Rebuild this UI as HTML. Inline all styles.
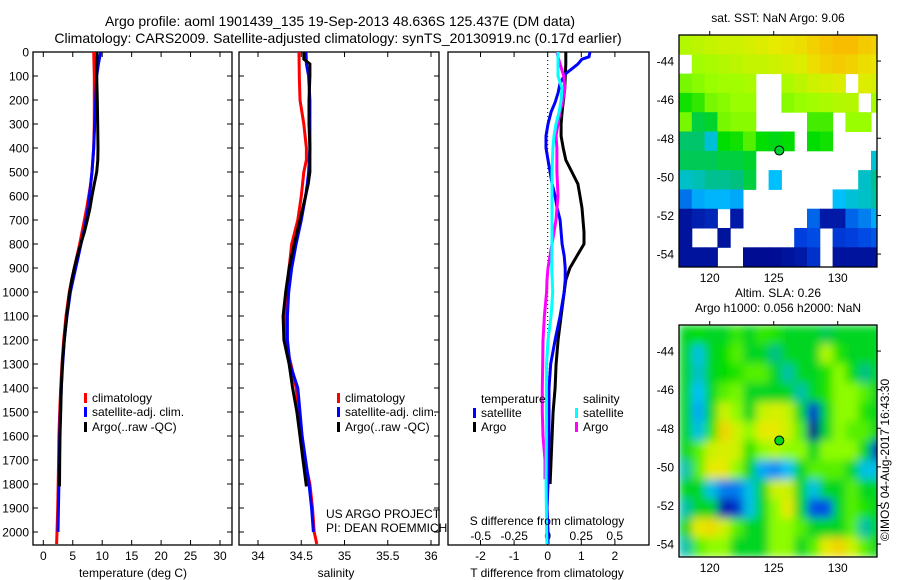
<!DOCTYPE html>
<html><head><meta charset="utf-8">
<style>
html,body{margin:0;padding:0;background:#fff;}
svg{display:block;font-family:"Liberation Sans",sans-serif;}
text{fill:#000;}
</style></head>
<body>
<svg id="fig" width="900" height="580" viewBox="0 0 900 580" xmlns="http://www.w3.org/2000/svg">
<defs>
<clipPath id="clipMap1"><rect x="679" y="35" width="198" height="232"/></clipPath>
<clipPath id="clipMap2"><rect x="679" y="325" width="198" height="232"/></clipPath>
<filter id="blur" x="-5%" y="-5%" width="110%" height="110%"><feGaussianBlur stdDeviation="4.5" edgeMode="duplicate"/></filter>
</defs>
<text x="340" y="26" font-size="14" text-anchor="middle">Argo profile: aoml 1901439_135 19-Sep-2013 48.636S 125.437E (DM data)</text>
<text x="338" y="43" font-size="14" text-anchor="middle">Climatology: CARS2009. Satellite-adjusted climatology: synTS_20130919.nc (0.17d earlier)</text>
<g id="g1"></g>
<g id="g2"></g>
<g id="g3"></g>
<g id="m1"></g>
<g id="m2"></g>
<text x="889" y="460" font-size="12" text-anchor="middle" transform="rotate(-90 889 460)">©IMOS 04-Aug-2017 16:43:30</text>
</svg>
<script>
// ---------- data ----------
const depthTicks = [0,100,200,300,400,500,600,700,800,900,1000,1100,1200,1300,1400,1500,1600,1700,1800,1900,2000];
const tempTicks = [0,5,10,15,20,25,30];
const salTicks = [34,34.5,35,35.5,36];
const tdiffTicks = [-2,-1,0,1,2];
const sdiffTicks = [-0.5,-0.25,0,0.25,0.5];
const latTicks = [-44,-46,-48,-50,-52,-54];
const lonTicks = [120,125,130];

const tClimD = [0,100,300,400,500,550,600,650,700,750,800,850,900,950,1000,1100,1200,1300,1400,1500,1600,1700,1800,1900,2000,2050];
const tClimV = [8.55,8.66,8.66,8.55,8.27,8.05,7.7,7.37,6.97,6.57,6.18,5.73,5.27,4.82,4.42,3.85,3.46,3.17,2.95,2.78,2.65,2.6,2.53,2.45,2.33,2.25];
const tSatD = [0,50,100,200,300,400,500,550,600,650,700,750,800,850,900,950,1000,1100,1200,1300,1400,1500,1600,1800,2000];
const tSatV = [9.74,9.35,9.06,8.89,8.72,8.55,8.27,8.05,7.82,7.6,7.25,6.86,6.4,5.96,5.5,5.05,4.6,4.02,3.57,3.29,3.06,2.89,2.78,2.65,2.5];
const tArgoD = [0,100,200,300,400,450,500,550,600,650,700,750,800,850,900,950,1000,1100,1200,1300,1400,1500,1600,1700,1810];
const tArgoV = [9.12,9.06,9.17,9.23,9.29,9.25,9.06,8.66,8.27,7.93,7.47,6.97,6.35,5.78,5.27,4.82,4.48,3.97,3.57,3.23,3.06,2.95,2.84,2.78,2.75];

const sClimD = [0,100,200,300,400,450,500,600,700,800,900,1000,1100,1200,1300,1400,1500,1600,1700,1800,1900,2000,2050];
const sClimV = [34.474,34.477,34.486,34.53,34.56,34.56,34.53,34.50,34.46,34.39,34.36,34.34,34.32,34.31,34.38,34.44,34.47,34.51,34.54,34.60,34.63,34.65,34.68];
const sSatD = [0,50,100,200,300,400,500,550,600,700,800,900,1000,1100,1200,1300,1400,1500,1600,1700,1800,1900,2000];
const sSatV = [34.555,34.56,34.585,34.60,34.60,34.60,34.585,34.57,34.55,34.50,34.44,34.39,34.355,34.34,34.34,34.37,34.46,34.486,34.51,34.55,34.59,34.62,34.64];
const sArgoD = [0,30,50,100,200,300,400,500,550,600,700,800,900,1000,1100,1200,1300,1400,1500,1600,1700,1810];
const sArgoV = [34.53,34.53,34.60,34.60,34.59,34.59,34.60,34.60,34.58,34.55,34.486,34.42,34.36,34.32,34.29,34.30,34.36,34.40,34.45,34.486,34.52,34.56];

const dArgoTD = [0,50,150,250,300,350,400,450,500,550,600,650,700,750,800,850,900,950,1000,1100,1200,1300,1400,1500,1600,1700,1800];
const dArgoTV = [0.54,0.54,0.51,0.43,0.40,0.40,0.46,0.54,0.72,0.90,0.96,1.02,1.05,1.08,1.08,0.87,0.66,0.54,0.49,0.40,0.31,0.25,0.22,0.16,0.13,0.10,0.07];
const dSatTD = [0,20,30,50,70,90,100,130,170,210,250,300,350,400,450,500,550,600,650,700,750,800,850,900,950,1000,1100,1200,1300,1400,1500,1600,1800,1900,2000,2050];
const dSatTV = [1.26,1.23,1.02,0.90,0.72,0.54,0.49,0.37,0.31,0.22,0.10,0.01,-0.05,-0.05,0.01,0.07,0.13,0.22,0.28,0.37,0.40,0.43,0.49,0.52,0.52,0.49,0.37,0.22,0.09,0.04,0.04,0.04,0.01,-0.02,0.01,0.01];
const dSatSD = [0,100,150,200,250,300,350,400,500,600,700,800,900,1000,1100,1200,1300,1400,1600,1800,2000,2050];
const dSatSV = [0.077,0.077,0.107,0.10,0.085,0.062,0.047,0.039,0.032,0.032,0.032,0.032,0.030,0.037,0.025,0.002,-0.008,-0.01,-0.01,-0.012,-0.008,-0.005];
const dArgoSD = [0,20,50,100,150,200,250,300,350,400,500,600,700,750,800,850,900,950,1000,1100,1200,1300,1400,1500,1600,1700,1780];
const dArgoSV = [0.07,0.077,0.092,0.12,0.128,0.114,0.092,0.077,0.062,0.069,0.069,0.077,0.062,0.047,0.032,0.017,0.002,-0.005,-0.008,-0.025,-0.035,-0.037,-0.04,-0.04,-0.035,-0.02,-0.02];

const n = null;
const sstGrid = [
 [10.5,10.6,10.7,10.8,10.8,10.9,11.0,11.1,11.2,11.3,11.5,11.7,11.8,11.8,11.6,11.5],
 [n,10.3,10.4,10.5,10.6,10.7,10.7,10.8,10.9,11.0,11.3,11.5,11.6,11.5,11.3,11.2],
 [10.0,10.1,10.2,10.3,10.3,10.4,n,n,10.4,10.6,10.8,10.9,11.0,n,11.0,10.9],
 [9.4,9.6,10.0,10.1,10.2,10.2,n,n,10.1,10.2,10.3,10.4,10.5,10.5,n,10.3],
 [10.0,9.0,9.1,10.0,10.1,10.1,n,n,n,n,9.7,9.7,n,10.2,10.2,n],
 [8.8,8.8,8.2,9.3,9.4,9.8,9.3,9.2,9.3,n,9.3,9.4,n,n,n,n],
 [8.9,8.9,8.9,9.0,9.0,9.1,n,n,n,n,n,n,n,n,n,8.2],
 [8.3,8.4,8.6,8.6,8.7,9.0,n,8.0,n,n,n,n,n,n,8.3,8.6],
 [7.4,7.8,7.9,7.9,7.8,n,n,n,n,n,n,n,8.0,8.2,8.3,8.5],
 [6.3,6.5,6.6,n,6.4,n,n,n,n,n,7.3,6.4,6.4,7.3,7.5,7.8],
 [6.3,n,n,6.3,n,n,n,n,n,7.0,7.1,n,6.9,7.0,7.1,7.2],
 [6.3,6.3,6.3,n,n,6.2,6.2,6.2,6.3,6.4,6.8,n,6.3,6.3,6.3,6.3]
];
const slaGrid = [
 [.05,.08,.05,.05,.12,.05,.12,.10,.05,.05,.05,.02,.05,.05,.05,.05],
 [.05,-.10,.05,.08,.15,.05,.05,-.02,.05,.05,.05,.25,.1,.05,.05,.05],
 [.05,-.08,.05,.08,.1,.15,.15,.05,-.05,.05,.05,.1,.2,.08,-.02,.05],
 [.05,-.12,.05,.15,.18,.05,.05,.05,.05,-.05,.05,.1,.2,.2,.15,.05],
 [.05,-.15,.05,.3,.2,.05,.28,.32,.28,.05,-.3,.05,.2,.2,.1,.05],
 [.05,-.1,.1,.4,.3,.2,.35,.35,.3,.15,-.4,.05,.2,.15,.15,.05],
 [.05,.15,.3,.32,.3,.1,.2,.25,.2,.2,.05,.2,.2,.2,.05,-.3],
 [-.05,.15,.35,.35,.2,.05,-.15,-.18,-.12,.05,.15,.15,.15,.05,-.1,-.1],
 [.05,.05,-.1,-.2,-.2,-.1,.05,.3,.3,.05,-.1,.05,.05,.15,.05,.05],
 [-.05,.05,.05,-.35,-.3,-.1,.05,.2,.35,.05,-.25,-.25,.05,.15,.1,.05],
 [.05,.35,.38,.3,.15,.05,.05,.2,.2,.15,.05,.05,.05,.15,-.05,.05],
 [-.05,.15,.2,.2,.05,.05,.05,.2,.2,.05,.15,.35,.4,.3,.15,.05]
];
const argoLon = 125.437, argoLat = -48.636, argoSST = 9.06, argoH1000 = 0.056;

// ---------- helpers ----------
const NS = "http://www.w3.org/2000/svg";
function mk(parent, tag, attrs, txt){
  const e = document.createElementNS(NS, tag);
  for (const k in attrs) e.setAttribute(k, attrs[k]);
  if (txt !== undefined) e.textContent = txt;
  parent.appendChild(e);
  return e;
}
const TOP = 52, BOT = 545;
const yD = d => 52 + d * 0.24;
const xT = v => 43.3 + v * 5.89;
const xS = v => 258 + (v - 34) * 86.5;
const xdT = v => 547.7 + v * 33.6;
const xdS = v => 547.7 + v * 134;
const lonX = v => 679 + (v - 117.6) * 12.8;
const latY1 = v => 35 + (-42.65 - v) * 19.3;
const latY2 = v => 325 + (-42.65 - v) * 19.3;

function frame(g, x0, x1, name){
  const r = mk(g, 'rect', {x:x0, y:TOP, width:x1-x0, height:BOT-TOP, fill:'none', stroke:'#000', 'stroke-width':1.3});
  
  
}
function depthTicksOn(g, x0, x1, labels){
  depthTicks.forEach(d => {
    const y = yD(d);
    mk(g, 'line', {x1:x0, y1:y, x2:x0+5, y2:y, stroke:'#000'});
    mk(g, 'line', {x1:x1, y1:y, x2:x1-5, y2:y, stroke:'#000'});
    if (labels) {
      const t = mk(g, 'text', {x:x0-4, y:y+4.5, 'font-size':12, 'text-anchor':'end'}, String(d));
      
      
    }
  });
}
function xTicks(g, vals, fx, ylab, labels, top, bottom, name){
  vals.forEach(v => {
    const x = fx(v);
    if (top) mk(g, 'line', {x1:x, y1:TOP, x2:x, y2:TOP+5, stroke:'#000'});
    if (bottom) mk(g, 'line', {x1:x, y1:BOT, x2:x, y2:BOT-5, stroke:'#000'});
    if (labels) {
      const t = mk(g, 'text', {x:x, y:ylab, 'font-size':12, 'text-anchor':'middle'}, String(v));
      
      
    }
  });
}
function profile(g, ds, vs, fx, color, name){
  const pts = ds.map((d,i) => fx(vs[i]).toFixed(1) + ',' + yD(d).toFixed(1)).join(' ');
  const p = mk(g, 'polyline', {points:pts, fill:'none', stroke:color, 'stroke-width':3, 'stroke-linejoin':'miter'});
  
  
}
function legend(g, x, y, color, label, name){
  const r = mk(g, 'rect', {x:x, y:y-9, width:3, height:10, fill:color});
  
  
  const t = mk(g, 'text', {x:x+8, y:y, 'font-size':12}, label);
  
  
}
function label(g, x, y, txt, anchor, name, size){
  const t = mk(g, 'text', {x:x, y:y, 'font-size':size||12, 'text-anchor':anchor||'start'}, txt);
  
  
}

// ---------- panel 1: temperature ----------
const g1 = document.getElementById('g1');
frame(g1, 33, 232, 'temperature-axes-frame');
depthTicksOn(g1, 33, 232, true);
xTicks(g1, tempTicks, xT, 560, true, true, true, 'temperature-tick-label');
profile(g1, tClimD, tClimV, xT, '#ff0000', 'temperature-climatology-line');
profile(g1, tSatD, tSatV, xT, '#0000ff', 'temperature-satellite-line');
profile(g1, tArgoD, tArgoV, xT, '#000000', 'temperature-argo-line');
legend(g1, 84, 402, '#ff0000', 'climatology', 'legend-climatology');
legend(g1, 84, 416, '#0000ff', 'satellite-adj. clim.', 'legend-satellite-adj');
legend(g1, 84, 431, '#000000', 'Argo(..raw -QC)', 'legend-argo');
label(g1, 133, 577, 'temperature (deg C)', 'middle', 'x-axis-title-temperature');

// ---------- panel 2: salinity ----------
const g2 = document.getElementById('g2');
frame(g2, 239, 439, 'salinity-axes-frame');
depthTicksOn(g2, 239, 439, false);
xTicks(g2, salTicks, xS, 560, true, true, true, 'salinity-tick-label');
profile(g2, sClimD, sClimV, xS, '#ff0000', 'salinity-climatology-line');
profile(g2, sSatD, sSatV, xS, '#0000ff', 'salinity-satellite-line');
profile(g2, sArgoD, sArgoV, xS, '#000000', 'salinity-argo-line');
legend(g2, 337, 402, '#ff0000', 'climatology', 'legend-climatology-2');
legend(g2, 337, 416, '#0000ff', 'satellite-adj. clim.', 'legend-satellite-adj-2');
legend(g2, 337, 431, '#000000', 'Argo(..raw -QC)', 'legend-argo-2');
label(g2, 326, 518, 'US ARGO PROJECT', 'start', 'project-label');
label(g2, 326, 532, 'PI: DEAN ROEMMICH', 'start', 'pi-label');
label(g2, 336, 577, 'salinity', 'middle', 'x-axis-title-salinity');

// ---------- panel 3: differences ----------
const g3 = document.getElementById('g3');
frame(g3, 448, 649, 'difference-axes-frame');
mk(g3, 'line', {x1:xdT(0), y1:TOP, x2:xdT(0), y2:BOT, stroke:'#000', 'stroke-dasharray':'1,3'});
xTicks(g3, tdiffTicks, xdT, 560, true, true, true, 'tdiff-tick-label');
xTicks(g3, sdiffTicks, xdS, 540, true, false, false, 'sdiff-tick-label');
profile(g3, dArgoTD, dArgoTV, xdT, '#000000', 'tdiff-argo-line');
profile(g3, dSatTD, dSatTV, xdT, '#0000ff', 'tdiff-satellite-line');
profile(g3, dArgoSD, dArgoSV, xdS, '#ff00ff', 'sdiff-argo-line');
profile(g3, dSatSD, dSatSV, xdS, '#00ffff', 'sdiff-satellite-line');
label(g3, 481, 403, 'temperature', 'start', 'legend-temperature-heading');
label(g3, 583, 403, 'salinity', 'start', 'legend-salinity-heading');
legend(g3, 473, 417, '#0000ff', 'satellite', 'legend-t-satellite');
legend(g3, 473, 431, '#000000', 'Argo', 'legend-t-argo');
legend(g3, 575, 417, '#00ffff', 'satellite', 'legend-s-satellite');
legend(g3, 575, 431, '#ff00ff', 'Argo', 'legend-s-argo');
label(g3, 547, 525, 'S difference from climatology', 'middle', 'sdiff-axis-title');
label(g3, 547, 577, 'T difference from climatology', 'middle', 'x-axis-title-tdiff');

// ---------- maps ----------
const stops = [[0,[0,0,128]],[0.17,[0,64,224]],[0.33,[0,192,255]],[0.45,[0,192,128]],[0.55,[0,221,0]],[0.7,[153,255,0]],[0.85,[230,235,0]],[1,[255,176,0]]];
function cmap(t){
  t = Math.max(0, Math.min(1, t));
  for (let i = 1; i < stops.length; i++) {
    if (t <= stops[i][0]) {
      const a = stops[i-1], b = stops[i], f = (t - a[0]) / (b[0] - a[0]);
      const c = a[1].map((v,k) => Math.round(v + (b[1][k] - v) * f));
      return 'rgb(' + c.join(',') + ')';
    }
  }
  return 'rgb(255,176,0)';
}
function drawMap(gid, grid, tfn, latY, top, clipId, blur, title1, title2, markerVal, cellName){
  const g = document.getElementById(gid);
  const cg = mk(g, 'g', {'clip-path':'url(#' + clipId + ')'});
  const inner = mk(cg, 'g', blur ? {filter:'url(#blur)'} : {});
  grid.forEach((row, r) => row.forEach((v, c) => {
    if (v === null) return;
    const x0 = lonX(117.6 + c), y0 = latY(-42.65 - r);
    const cell = mk(inner, 'rect', {x:x0.toFixed(1), y:y0.toFixed(1), width:13.3, height:19.8, fill:cmap(tfn(v))});
    
    
  }));
  const fr = mk(g, 'rect', {x:679, y:top, width:198, height:232, fill:'none', stroke:'#000', 'stroke-width':1.3});
  
  
  latTicks.forEach(v => {
    const y = latY(v);
    mk(g, 'line', {x1:877, y1:y, x2:881, y2:y, stroke:'#000'});
    label(g, 674, y + 4.5, String(v), 'end', 'latitude-tick-label');
  });
  lonTicks.forEach(v => {
    const x = lonX(v);
    mk(g, 'line', {x1:x, y1:top, x2:x, y2:top - 4, stroke:'#000'});
    label(g, x, top + 232 + 15, String(v), 'middle', 'longitude-tick-label');
  });
  const mk1 = mk(g, 'circle', {cx:lonX(argoLon), cy:latY(argoLat), r:4.5, fill:cmap(tfn(markerVal)), stroke:'#000', 'stroke-width':1});
  
  
  if (title2) {
    label(g, 778, top - 28, title1, 'middle', gid + '-title');
    label(g, 778, top - 13, title2, 'middle', gid + '-subtitle');
  } else {
    label(g, 778, top - 13, title1, 'middle', gid + '-title');
  }
}
drawMap('m1', sstGrid, v => (v - 6) / 6, latY1, 35, 'clipMap1', false, 'sat. SST: NaN Argo: 9.06', null, argoSST, 'sst-cell');
drawMap('m2', slaGrid, v => (v + 0.42) / 0.9, latY2, 325, 'clipMap2', true, 'Altim. SLA: 0.26', 'Argo h1000: 0.056 h2000: NaN', argoH1000, 'sla-cell');
</script>
</body></html>
